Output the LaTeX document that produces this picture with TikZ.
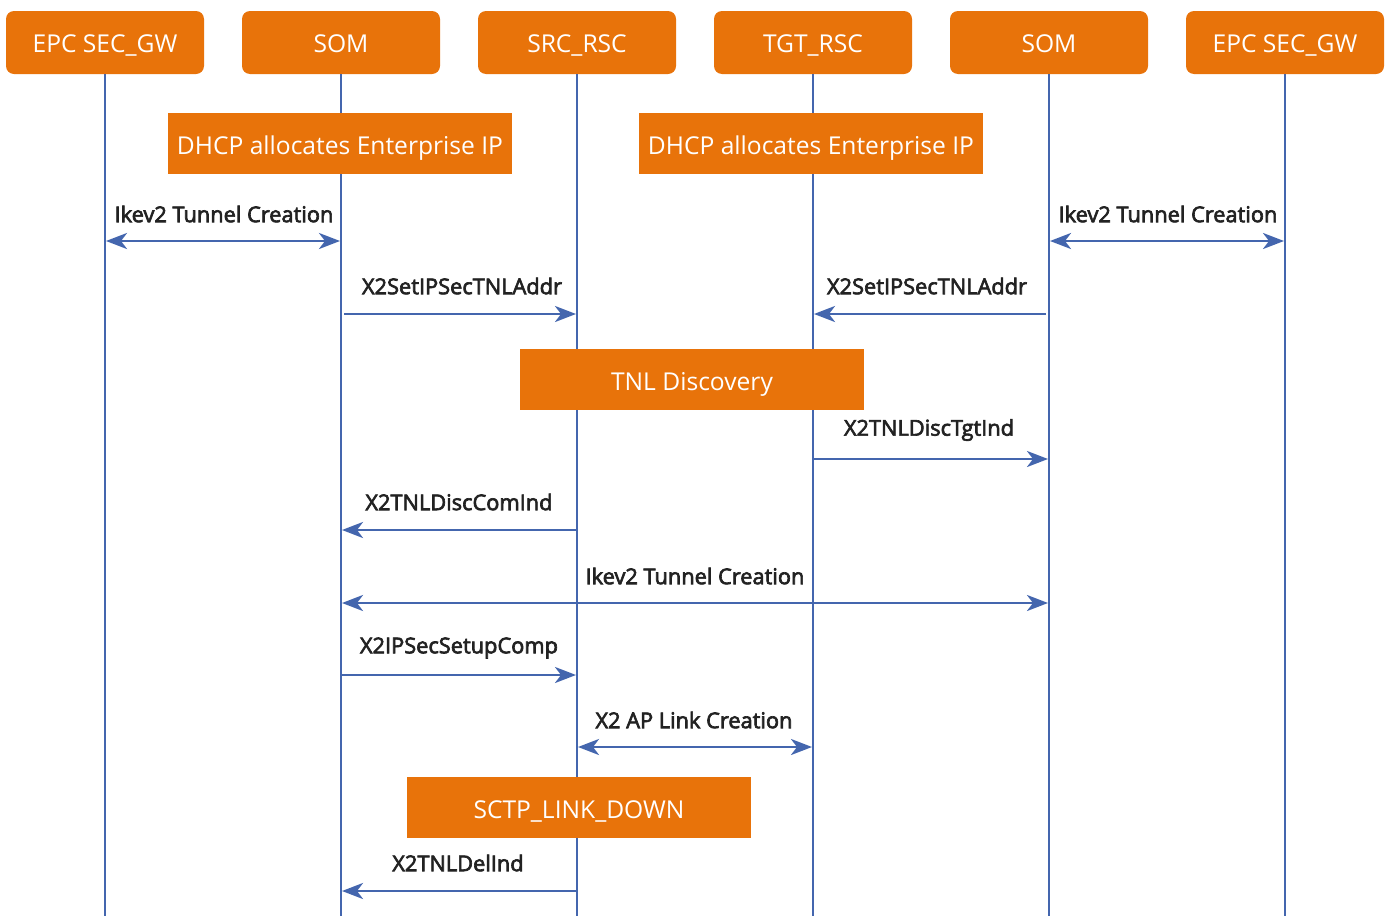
\documentclass[tikz,border=0pt]{standalone}
\usepackage{fontspec}
\setmainfont{Open Sans}
\newfontfamily\lblfont[FakeBold=3]{Open Sans}
\usetikzlibrary{arrows.meta}
\definecolor{orng}{HTML}{E8730A}
\definecolor{lblue}{HTML}{4466AE}
\definecolor{txt}{HTML}{222222}
\tikzset{
  head/.style={fill=orng, rounded corners=4pt, minimum width=99pt, minimum height=31.5pt, text=white, font=\fontsize{12.3}{14}\selectfont, inner sep=0pt, text height=10pt, text depth=0.2pt},
  actbox/.style={fill=orng, minimum width=172pt, minimum height=30.5pt, text=white, font=\fontsize{12.3}{14}\selectfont, inner sep=0pt, text height=11.5pt, text depth=0.2pt},
  life/.style={draw=lblue, line width=1.3pt},
  msg/.style={draw=lblue, line width=1.4pt, -{Stealth[length=10.5pt,width=8pt,inset=3pt]}},
  bmsg/.style={draw=lblue, line width=1.4pt, {Stealth[length=10.5pt,width=8pt,inset=3pt]}-{Stealth[length=10.5pt,width=8pt,inset=3pt]}},
  lbl/.style={text=txt, font=\lblfont\fontsize{10.9}{12}\selectfont, inner sep=0pt}
}
\begin{document}
\begin{tikzpicture}[x=0.5pt,y=-0.5pt]
\useasboundingbox (0,0) rectangle (1388,916);
% headers
\node[head] (h1) at (105,42.5) {EPC SEC\_GW};
\node[head] (h2) at (341,42.5) {SOM};
\node[head] (h3) at (577,42.5) {SRC\_RSC};
\node[head] (h4) at (813,42.5) {TGT\_RSC};
\node[head] (h5) at (1049,42.5) {SOM};
\node[head] (h6) at (1285,42.5) {EPC SEC\_GW};
\foreach \i/\x in {1/105,2/341,3/577,4/813,5/1049,6/1285}{
  \coordinate (e\i) at (\x,916);
}
\foreach \i in {1,...,6}{ \draw[life] (h\i.south) -- (e\i); }
% activity boxes
\node[actbox] (d1) at (340,143) {DHCP allocates Enterprise IP};
\node[actbox] (d2) at (811,143) {DHCP allocates Enterprise IP};
\node[actbox, text height=10.8pt] (tnl) at (692,379.5) {TNL Discovery};
\node[actbox, text height=10.8pt] (sctp) at (579,807.5) {SCTP\_LINK\_DOWN};
% message endpoints
\coordinate (a1l) at (106,241); \coordinate (a1r) at (340,241);
\coordinate (a2l) at (1050,241); \coordinate (a2r) at (1284,241);
\coordinate (b1l) at (344,314); \coordinate (b1r) at (576,314);
\coordinate (b2l) at (814,314); \coordinate (b2r) at (1046,314);
\coordinate (c1l) at (813,459); \coordinate (c1r) at (1048,459);
\coordinate (c2l) at (342,530); \coordinate (c2r) at (577,530);
\coordinate (c3l) at (342,603); \coordinate (c3r) at (1048,603);
\coordinate (c4l) at (341,675); \coordinate (c4r) at (576,675);
\coordinate (c5l) at (578,747); \coordinate (c5r) at (812,747);
\coordinate (c6l) at (342,891); \coordinate (c6r) at (577,891);
\draw[bmsg] (a1l) -- (a1r);
\draw[bmsg] (a2l) -- (a2r);
\draw[msg] (b1l) -- (b1r);
\draw[msg] (b2r) -- (b2l);
\draw[msg] (c1l) -- (c1r);
\draw[msg] (c2r) -- (c2l);
\draw[bmsg] (c3l) -- (c3r);
\draw[msg] (c4l) -- (c4r);
\draw[bmsg] (c5l) -- (c5r);
\draw[msg] (c6r) -- (c6l);
% labels
\node[lbl] (l1) at (224,214) {Ikev2 Tunnel Creation};
\node[lbl] (l2) at (1168,214) {Ikev2 Tunnel Creation};
\node[lbl] (l3) at (462,286) {X2SetIPSecTNLAddr};
\node[lbl] (l4) at (927,286) {X2SetIPSecTNLAddr};
\node[lbl] (l5) at (929,430) {X2TNLDiscTgtInd};
\node[lbl] (l6) at (459,502) {X2TNLDiscComInd};
\node[lbl] (l7) at (695,576) {Ikev2 Tunnel Creation};
\node[lbl] (l8) at (459,648) {X2IPSecSetupComp};
\node[lbl] (l9) at (694,720) {X2 AP Link Creation};
\node[lbl] (l10) at (458,863) {X2TNLDelInd};
\end{tikzpicture}
\end{document}
